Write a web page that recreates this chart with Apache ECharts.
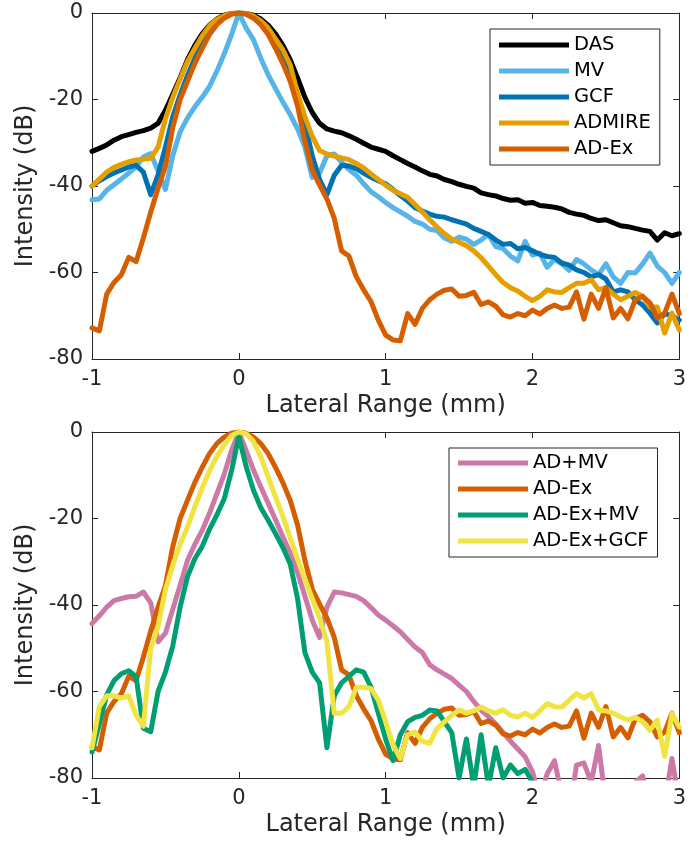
<!DOCTYPE html>
<html><head><meta charset="utf-8">
<script src="https://cdn.jsdelivr.net/npm/echarts@6/dist/echarts.min.js"></script>
<style>html,body{margin:0;padding:0;background:#fff}#c{width:689px;height:842px}</style>
</head><body><div id="c"></div>
<script>
// Lateral positions (mm)
const lateral = [
-1,-0.95,-0.9,-0.85,-0.8,-0.75,-0.7,-0.65,-0.6,-0.55,
-0.5,-0.45,-0.4,-0.35,-0.3,-0.25,-0.2,-0.15,-0.1,-0.05,
0,0.05,0.1,0.15,0.2,0.25,0.3,0.35,0.4,0.45,
0.5,0.55,0.6,0.65,0.7,0.75,0.8,0.85,0.9,0.95,
1,1.05,1.1,1.15,1.2,1.25,1.3,1.35,1.4,1.45,
1.5,1.55,1.6,1.65,1.7,1.75,1.8,1.85,1.9,1.95,
2,2.05,2.1,2.15,2.2,2.25,2.3,2.35,2.4,2.45,
2.5,2.55,2.6,2.65,2.7,2.75,2.8,2.85,2.9,2.95,
3];

// Top panel series (dB)
const das = [
-32,-31.3,-30.5,-29.4,-28.6,-28.1,-27.6,-27.2,-26.6,-25.5,
-22.5,-18.8,-15,-10.8,-7.5,-4.8,-2.8,-1.4,-0.5,-0.1,
0,-0.1,-0.5,-1.4,-2.8,-4.8,-7.5,-10.8,-15,-19.5,
-23,-25.5,-26.8,-27.3,-27.7,-28.4,-29.2,-30.1,-31,-31.5,
-32,-33,-33.9,-34.8,-35.6,-36.5,-37.3,-37.7,-38.5,-39,
-39.6,-40.1,-40.5,-41.6,-42,-42.3,-42.9,-43.3,-43.2,-44,
-43.8,-44.5,-44.7,-44.9,-45.3,-46.1,-46.5,-46.8,-47.5,-48,
-47.8,-48.5,-49.2,-49.4,-49.8,-50.2,-50.5,-52.5,-50.8,-51.5,
-51];
const mv = [
-43.2,-43,-41,-39.7,-38.4,-37,-35.5,-33.3,-32.5,-36.5,
-40.8,-33,-27.5,-24.3,-21.7,-19.5,-17,-13.5,-9.5,-5,
0,-3.5,-6.2,-10.5,-14.3,-17.5,-20.6,-23.5,-26.8,-31,
-38,-37,-33,-32.6,-34.5,-36.2,-37.5,-39.5,-41.3,-42.5,
-43.8,-45,-46,-47,-48.2,-48.8,-50,-50.3,-52,-52.8,
-51.8,-52.3,-53.5,-52.5,-51.2,-54,-54.5,-56.2,-57.3,-52.8,
-56,-55.5,-58.8,-57,-58,-59.5,-57,-58,-59.4,-60.5,
-58,-61,-62.5,-60,-60.1,-58,-55.5,-58.5,-60,-62.5,
-60];
const gcf = [
-40,-38.8,-37.8,-37,-36.3,-35.6,-35.2,-36.8,-42,-37.4,
-31,-24,-19,-14.5,-10.5,-7,-4.3,-2.3,-1,-0.2,
0,-0.2,-1,-2.3,-4.3,-7,-10.5,-14.8,-20,-25.5,
-33,-38.5,-42,-37.5,-35.2,-35.4,-36,-37,-38,-38.8,
-39.5,-40.8,-42.2,-43.5,-45,-45.8,-46.5,-47,-47.2,-47.8,
-48.3,-48.8,-49.8,-50.5,-51.2,-52.5,-53.5,-53.3,-54.5,-54.2,
-55,-55.8,-56.3,-56.5,-57.8,-58.3,-59.4,-60,-61,-60.5,
-61.5,-64.5,-64,-64.5,-66.3,-67.5,-69.4,-71.7,-69.5,-70,
-71];
const admire = [
-40,-38.4,-36.8,-35.7,-35,-34.4,-34,-33.8,-33.6,-31,
-24.5,-19.5,-15.3,-11.2,-8.2,-5.3,-3,-1.5,-0.6,-0.1,
0,-0.1,-0.7,-1.8,-3.5,-6,-8.5,-12,-18.5,-24,
-28.5,-31.8,-32.6,-33.1,-33.5,-33.9,-34.8,-35.8,-37.2,-38.5,
-39.8,-41,-41.8,-42.6,-44.3,-46,-47.8,-49.5,-51,-52.3,
-53,-53.8,-55,-56.6,-58.5,-60.5,-62.3,-63.5,-64.3,-65.5,
-66.5,-65.5,-64,-64.5,-64.6,-63.5,-62.5,-62.5,-61.7,-64,
-63.5,-65,-66.3,-65.5,-64.6,-65.5,-68,-68,-74,-69.4,
-73.3];
const adEx = [
-72.8,-73.5,-65,-62.3,-60.5,-56.5,-57.5,-52,-46,-40.5,
-35.5,-26.5,-20,-15.8,-11.7,-8.2,-5,-2.7,-1.2,-0.3,
0,-0.3,-1.2,-2.7,-5,-8.2,-11.7,-15.8,-21.5,-29.7,
-36.3,-39.8,-43,-47.5,-55,-56.2,-61,-64,-66.7,-71,
-74.5,-75.6,-75.8,-69.5,-72,-68.3,-66.3,-65,-64.1,-63.8,
-65.5,-65.3,-64.6,-67.4,-66.8,-67.8,-69.8,-70.3,-69.5,-70,
-68.7,-69.6,-68.3,-67.5,-68.3,-68,-64.5,-70.8,-65,-68.3,
-63.5,-70.5,-68.3,-70.7,-66.3,-65.5,-67,-70.5,-69.4,-65,
-69.5];

// Bottom panel series (dB)
const adMv = [
-44.3,-42.5,-40.5,-39,-38.5,-38.1,-38,-37,-39.5,-48.5,
-46.5,-41,-35.5,-29.7,-26,-22.8,-18.8,-14.3,-9.8,-4.3,
0,-4.3,-8.8,-12.7,-16.5,-20.3,-24.2,-28,-32.5,-38,
-43.5,-47.5,-40.5,-37,-37.2,-37.6,-38,-39,-40.6,-42.3,
-43.5,-44.8,-46.2,-48,-49.7,-51,-53.8,-55,-56,-57,
-58.5,-60,-62.3,-64.3,-65.8,-67.5,-69.5,-71.5,-73.3,-75.1,
-78.5,-85,-79,-76,-84,-88,-77,-76.5,-81,-72.5,
-86,-90,-90,-88,-81,-79.5,-88,-90,-86,-75.5,
-86];
const adExMv = [
-74,-67.5,-60.8,-57.5,-55.9,-55.2,-56.5,-68.5,-69.3,-60,
-55.5,-49.5,-40.5,-33.5,-29.3,-26.5,-22.5,-19.2,-15.5,-9,
-1,-8,-13.5,-17.5,-20.4,-23.5,-26.7,-30.5,-38.5,-51,
-55.5,-58,-73,-61,-58,-56.5,-55,-55.5,-59,-65,
-71,-76,-70,-67,-66,-65.5,-64.3,-64.5,-67,-69.5,
-80,-71,-82,-70,-82,-73,-80,-77,-79,-78,
-81,-86,-88,-90,-88,-90,-90,-88,-90,-90,
-90,-90,-90,-90,-90,-90,-90,-90,-90,-90,
-90];
const adExGcf = [
-73,-63.5,-61,-61,-61.5,-61,-65.5,-68,-50,-45,
-36.5,-30.8,-26,-22,-17.3,-13,-9,-5.7,-3,-0.8,
0,-0.4,-2.2,-5.8,-10.4,-15,-19.5,-24.5,-29.3,-34,
-38.5,-43,-48.5,-65,-65,-63.5,-59,-59,-59.3,-62,
-67,-72.3,-75.5,-70,-69.4,-71.5,-72,-68.5,-67,-65.5,
-64.3,-65,-64.5,-63.6,-64.5,-65,-64.2,-65.5,-65.9,-65,
-66,-64.5,-62.8,-63.5,-63.6,-62,-60.5,-61.5,-60.5,-64.3,
-64.5,-65,-65.9,-66.6,-66,-67,-69,-66.6,-75,-65.1,
-68.2];

const topNames = ['DAS','MV','GCF','ADMIRE','AD-Ex'];
const bottomNames = ['AD+MV','AD-Ex','AD-Ex+MV','AD-Ex+GCF'];
const xName = 'Lateral Range (mm)';
const yName = 'Intensity (dB)';

const FONT = 'DejaVu Sans';
const TXT = '#262626';
const AX = '#262626';

function pairs(ys){ return lateral.map((x,i)=>[x, ys[i]]); }

function xAx(grid, pos){
  return {gridIndex:grid, type:'value', min:-1, max:3, interval:1, position:pos,
    axisLine:{show:true, onZero:false, lineStyle:{color:AX, width:1}},
    axisTick:{show:true, inside:true, length:6, lineStyle:{color:AX}},
    axisLabel:{show:pos==='bottom', fontSize:21, color:TXT, margin:10, fontFamily:FONT},
    splitLine:{show:false},
    name: pos==='bottom' ? xName : '', nameLocation:'middle', nameGap:35,
    nameTextStyle:{fontSize:24, color:TXT, fontFamily:FONT}};
}
function yAx(grid, pos){
  return {gridIndex:grid, type:'value', min:-80, max:0, interval:20, position:pos,
    axisLine:{show:true, onZero:false, lineStyle:{color:AX, width:1}},
    axisTick:{show:true, inside:true, length:6, lineStyle:{color:AX}},
    axisLabel:{show:pos==='left', fontSize:21, color:TXT, margin:9, fontFamily:FONT},
    splitLine:{show:false},
    name: pos==='left' ? yName : '', nameLocation:'middle', nameGap:54, nameRotate:90,
    nameTextStyle:{fontSize:24, color:TXT, fontFamily:FONT}};
}
function line(name, ys, color, idx){
  return {name:name, type:'line', xAxisIndex:idx, yAxisIndex:idx, data:pairs(ys),
    showSymbol:false, symbol:'none', clip:true, silent:true,
    itemStyle:{color:color}, lineStyle:{color:color, width:5, join:'round', cap:'round'}};
}
function legend(names, left, top, padding){
  return {data:names, orient:'vertical', left:left, top:top, icon:'rect',
    itemWidth:70, itemHeight:5, itemGap:0, padding:padding,
    borderColor:AX, borderWidth:1, backgroundColor:'#fff', selectedMode:false, z:10,
    textStyle:{fontSize:19.5, color:'#000', fontFamily:FONT, lineHeight:26}};
}

const chart = echarts.init(document.getElementById('c'), null, {renderer:'canvas'});
chart.setOption({
  animation:false,
  backgroundColor:'#fff',
  grid:[
    {left:92, top:13, width:591, height:346},
    {left:92, top:432, width:591, height:346}
  ],
  xAxis:[xAx(0,'bottom'), xAx(0,'top'), xAx(1,'bottom'), xAx(1,'top')],
  yAxis:[yAx(0,'left'), yAx(0,'right'), yAx(1,'left'), yAx(1,'right')],
  legend:[
    legend(topNames, 490, 29, [3,9,3,9]),
    legend(bottomNames, 449, 448, [2,9,3,9])
  ],
  series:[
    line('DAS', das, '#000000', 0),
    line('MV', mv, '#56B4E9', 0),
    line('GCF', gcf, '#0072B2', 0),
    line('ADMIRE', admire, '#E69F00', 0),
    line('AD-Ex', adEx, '#D55E00', 0),
    line('AD+MV', adMv, '#CC79A7', 2),
    line('AD-Ex', adEx, '#D55E00', 2),
    line('AD-Ex+MV', adExMv, '#009E73', 2),
    line('AD-Ex+GCF', adExGcf, '#F0E442', 2)
  ]
});
</script></body></html>
